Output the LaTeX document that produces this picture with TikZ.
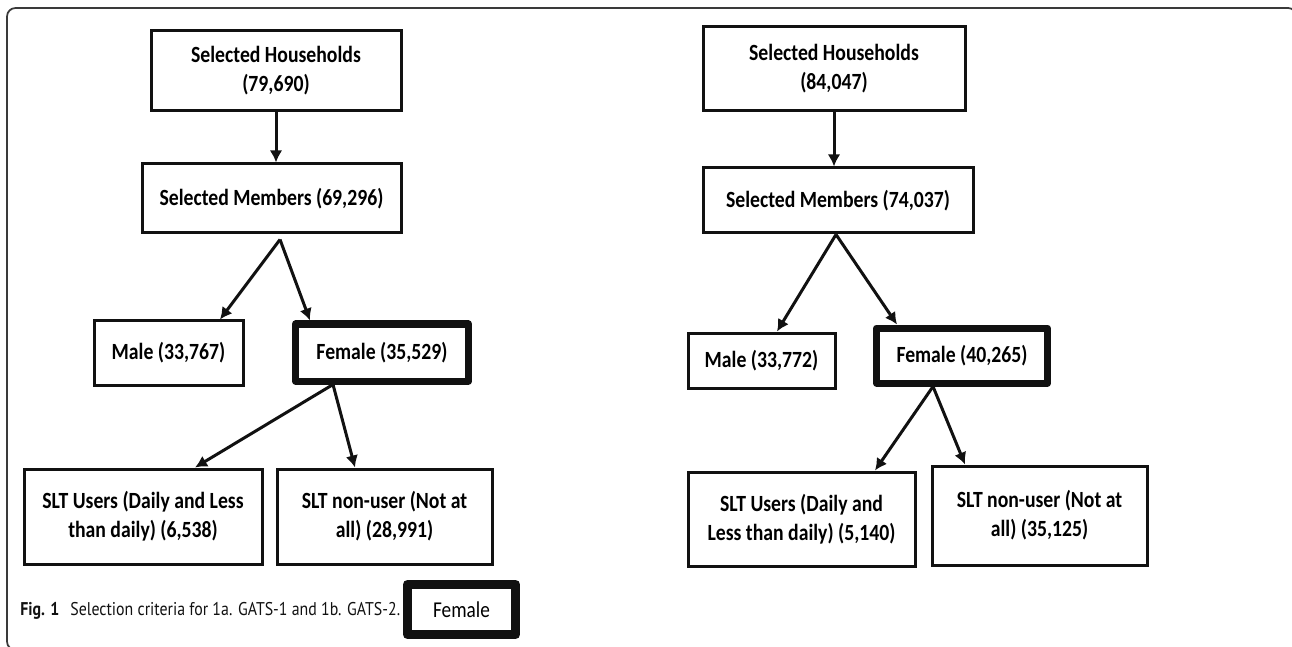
\documentclass[tikz,border=0pt]{standalone}
\usepackage{fontspec}
\setmainfont{Carlito}[FakeStretch=0.85]
\newfontfamily\capfont{PT Sans}[FakeStretch=0.86]
\usetikzlibrary{positioning,arrows.meta}
\definecolor{ink}{HTML}{111111}
\definecolor{rim}{HTML}{3A3A3A}

\begin{document}
\begin{tikzpicture}[
      box/.style={draw=ink,rectangle,line width=0.06cm,inner sep=2pt,align=center,
        font=\bfseries\fontsize{13.2}{16.5}\selectfont},
      focus/.style={box,line width=0.14cm,line join=round},
      arr/.style={-{Latex[length=2.4mm,width=2.5mm]},ink,line width=0.06cm}]
  \useasboundingbox (0,0) rectangle (25.84,-12.94);
  \draw[rim,line width=1pt,rounded corners=0.17cm] (0.14,-0.16) rectangle (25.93,-13.0);
  % 1a. GATS-1
  \node[box,minimum width=5cm,minimum height=1.6cm] (hh1) at (5.52,-1.42) {Selected Households\\(79,690)};
  \node[box,minimum width=5.18cm,minimum height=1.38cm,below=1.0cm of hh1,xshift=-0.09cm] (mem1) {Selected Members (69,296)};
  \node[box,minimum width=2.98cm,minimum height=1.28cm,below=1.7cm of mem1,xshift=-2.06cm] (male1) {Male (33,767)};
  \node[focus,minimum width=3.46cm,minimum height=1.14cm,below=1.72cm of mem1,xshift=2.21cm] (fem1) {Female (35,529)};
  \node[box,minimum width=4.76cm,minimum height=1.9cm,below=1.66cm of fem1,xshift=-4.78cm] (slt1) {SLT Users (Daily and Less\\than daily) (6,538)};
  \node[box,minimum width=4.3cm,minimum height=1.9cm,below=1.66cm of fem1,xshift=0.05cm] (non1) {SLT non-user (Not at\\all) (28,991)};
  \coordinate (split1) at ([xshift=0.17cm,yshift=-0.1cm]mem1.south);
  \draw[arr] (hh1.south) -- (hh1.south |- mem1.north);
  \draw[arr] (split1) -- ([xshift=1.03cm]male1.north);
  \draw[arr] (split1) -- ([xshift=-1.44cm]fem1.north);
  \draw[arr] ([xshift=-0.98cm]fem1.south) -- ([xshift=1.04cm]slt1.north);
  \draw[arr] ([xshift=-0.98cm]fem1.south) -- ([xshift=-0.59cm]non1.north);
  % 1b. GATS-2
  \node[box,minimum width=5.24cm,minimum height=1.68cm] (hh2) at (16.68,-1.38) {Selected Households\\(84,047)};
  \node[box,minimum width=5.4cm,minimum height=1.3cm,below=1.08cm of hh2,xshift=0.08cm] (mem2) {Selected Members (74,037)};
  \node[box,minimum width=2.94cm,minimum height=1.1cm,below=1.94cm of mem2,xshift=-1.53cm] (male2) {Male (33,772)};
  \node[focus,minimum width=3.42cm,minimum height=1.1cm,below=1.8cm of mem2,xshift=2.48cm] (fem2) {Female (40,265)};
  \node[box,minimum width=4.54cm,minimum height=1.88cm,below=1.68cm of fem2,xshift=-3.21cm] (slt2) {SLT Users (Daily and\\Less than daily) (5,140)};
  \node[box,minimum width=4.3cm,minimum height=1.98cm,below=1.56cm of fem2,xshift=1.55cm] (non2) {SLT non-user (Not at\\all) (35,125)};
  \draw[arr] (hh2.south) -- (hh2.south |- mem2.north);
  \draw[arr] ([xshift=-0.04cm]mem2.south) -- ([xshift=0.31cm]male2.north);
  \draw[arr] ([xshift=-0.04cm]mem2.south) -- ([xshift=-1.3cm]fem2.north);
  \draw[arr] ([xshift=-0.58cm]fem2.south) -- ([xshift=1.47cm]slt2.north);
  \draw[arr] ([xshift=-0.58cm]fem2.south) -- ([xshift=-1.49cm]non2.north);
  % caption and key
  \node[anchor=base west,inner sep=0pt,text=ink,font=\capfont\fontsize{10.5}{12}\selectfont] (figcap) at (0.4,-12.3)
    {\textbf{Fig. 1}\hspace{0.22cm}Selection criteria for 1a. GATS-1 and 1b. GATS-2.};
  \node[draw=ink,line width=0.18cm,line join=round,minimum width=2.16cm,minimum height=1cm,
    font=\fontsize{12.9}{14}\selectfont] (key) at (9.23,-12.19) {Female};
\end{tikzpicture}
\end{document}
